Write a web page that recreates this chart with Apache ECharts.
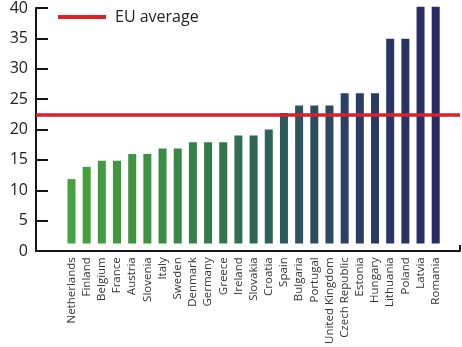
<!DOCTYPE html>
<html>
<head>
<meta charset="utf-8">
<script src="https://cdn.jsdelivr.net/npm/echarts@6/dist/echarts.min.js"></script>
<style>
  html, body { margin: 0; padding: 0; background: #fff; }
  #chart { width: 462px; height: 347px; }
</style>
</head>
<body>
<div id="chart"></div>
<script>
// Countries, in ascending order of value
const countries = [
  'Netherlands', 'Finland', 'Belgium', 'France', 'Austria', 'Slovenia', 'Italy',
  'Sweden', 'Denmark', 'Germany', 'Greece', 'Ireland', 'Slovakia', 'Croatia',
  'Spain', 'Bulgaria', 'Portugal', 'United Kingdom', 'Czech Republic', 'Estonia',
  'Hungary', 'Lithuania', 'Poland', 'Latvia', 'Romania'
];
const values = [
  11.6, 13.6, 14.6, 14.6, 15.7, 15.7, 16.6,
  16.6, 17.6, 17.6, 17.6, 18.7, 18.7, 19.7,
  22.4, 23.6, 23.6, 23.6, 25.6, 25.6,
  25.6, 34.5, 34.5, 39.7, 39.7
];
const euAverage = 22.5;
const yTicks = [0, 5, 10, 15, 20, 25, 30, 35, 40];

// Bars start slightly above the baseline
const BAR_FLOOR = 1.1;

// Green-to-navy ramp across the bars
const rampStops = [
  [0, [70, 162, 60]],
  [6, [60, 140, 68]],
  [10, [50, 116, 78]],
  [14, [44, 90, 92]],
  [18, [43, 64, 100]],
  [24, [41, 43, 99]]
];
function barColor(i) {
  for (let s = 0; s < rampStops.length - 1; s++) {
    const [i0, c0] = rampStops[s];
    const [i1, c1] = rampStops[s + 1];
    if (i >= i0 && i <= i1) {
      const t = (i - i0) / (i1 - i0);
      const c = c0.map((v, k) => Math.round(v + (c1[k] - v) * t));
      return 'rgb(' + c.join(',') + ')';
    }
  }
  return 'rgb(' + rampStops[rampStops.length - 1][1].join(',') + ')';
}

const FONT = "'Open Sans', 'Noto Sans', sans-serif";
const AXIS_COLOR = '#141414';
const TOP = 5, BOTTOM = 96;

const chart = echarts.init(document.getElementById('chart'), null, { renderer: 'canvas' });

chart.setOption({
  animation: false,
  backgroundColor: '#fff',
  legend: {
    left: 53,
    top: 4,
    icon: 'rect',
    itemWidth: 48,
    itemHeight: 4,
    data: ['EU average'],
    textStyle: { fontFamily: FONT, fontSize: 16, color: '#222', padding: [0, 0, 0, 4] }
  },
  grid: [
    { left: 36, right: 2, top: TOP, bottom: BOTTOM },
    { left: 63.9, right: 18.7, top: TOP, bottom: BOTTOM }
  ],
  xAxis: [
    {
      gridIndex: 0, type: 'value', min: 0, max: 1, interval: 1,
      axisLine: { show: true, lineStyle: { color: AXIS_COLOR, width: 2 } },
      axisTick: { show: true, inside: true, length: 6, lineStyle: { color: AXIS_COLOR, width: 2 } },
      axisLabel: { show: false },
      splitLine: { show: false }
    },
    {
      gridIndex: 1, type: 'category', data: countries,
      axisLine: { show: false },
      axisTick: { show: false },
      axisLabel: {
        rotate: 90, interval: 0, margin: 7,
        fontFamily: FONT, fontSize: 11.5, color: '#333'
      }
    }
  ],
  yAxis: [
    {
      gridIndex: 0, type: 'value', min: yTicks[0], max: yTicks[yTicks.length - 1], interval: 5,
      axisLine: { show: true, lineStyle: { color: AXIS_COLOR, width: 2 } },
      axisTick: { show: true, inside: true, length: 12, lineStyle: { color: AXIS_COLOR, width: 2 } },
      axisLabel: { margin: 8, fontFamily: FONT, fontSize: 16, color: '#222' },
      splitLine: { show: false }
    },
    {
      gridIndex: 1, type: 'value', min: yTicks[0], max: yTicks[yTicks.length - 1],
      show: false
    }
  ],
  series: [
    {
      name: 'EU average',
      type: 'line',
      xAxisIndex: 0, yAxisIndex: 0,
      data: [],
      itemStyle: { color: '#d8212b' },
      lineStyle: { color: '#d8212b' },
      markLine: {
        silent: true,
        symbol: 'none',
        label: { show: false },
        lineStyle: { color: '#d8212b', width: 3.5, type: 'solid' },
        data: [{ yAxis: euAverage }]
      },
      z: 5
    },
    {
      name: 'Value',
      type: 'custom',
      xAxisIndex: 1, yAxisIndex: 1,
      data: values.map((v, i) => [i, v]),
      renderItem: function (params, api) {
        const top = api.coord([api.value(0), api.value(1)]);
        const base = api.coord([api.value(0), BAR_FLOOR]);
        const w = 8;
        return {
          type: 'rect',
          shape: { x: top[0] - w / 2, y: top[1], width: w, height: base[1] - top[1] },
          style: { fill: barColor(params.dataIndex) }
        };
      },
      z: 2
    }
  ]
});
</script>
</body>
</html>
